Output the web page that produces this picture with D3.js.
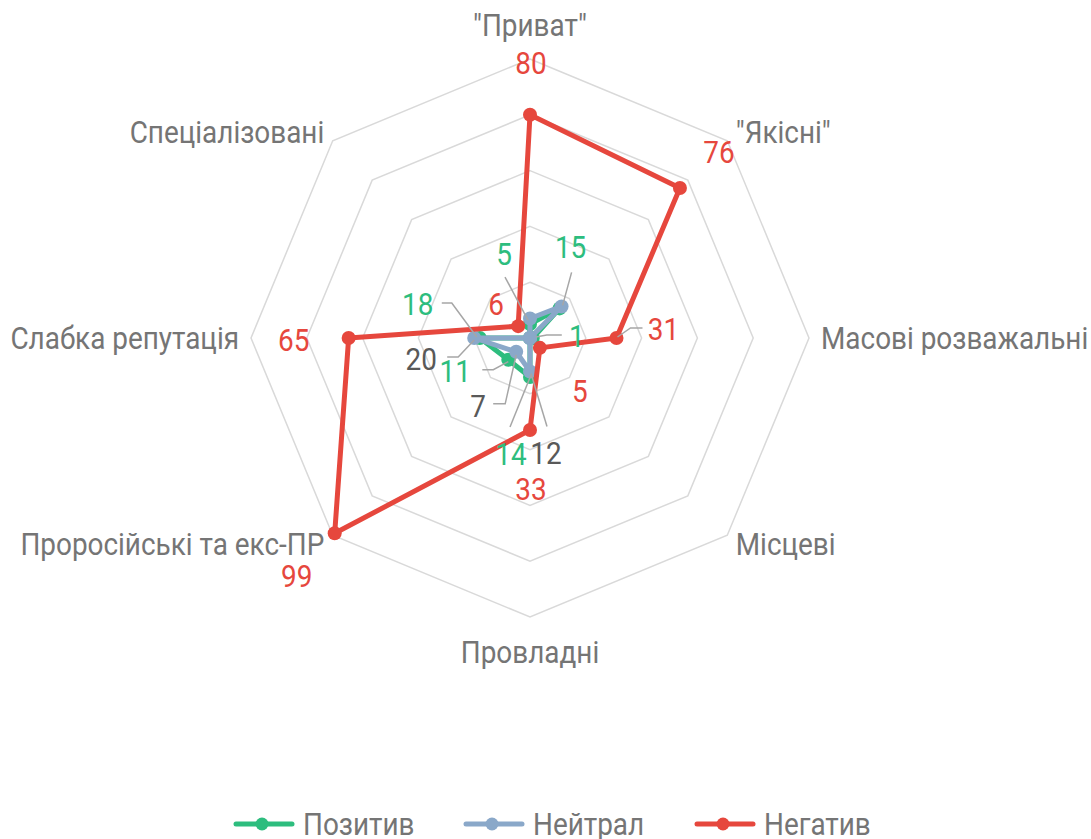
<!DOCTYPE html>
<html>
<head>
<meta charset="utf-8">
<script src="https://cdn.jsdelivr.net/npm/d3@7/dist/d3.min.js"></script>
<style>
  body { margin: 0; background: #fff; }
  text { font-family: Roboto, "Open Sans", sans-serif; font-size: 31px; }
</style>
</head>
<body>
<script>
var categories = ['"Приват"', '"Якісні"', 'Масові розважальні', 'Місцеві', 'Провладні', 'Проросійські та екс-ПР', 'Слабка репутація', 'Спеціалізовані']
var seriesNames = ['Позитив', 'Нейтрал', 'Негатив']
var positive = [5, 15, 1, 0, 14, 11, 18, 0]
var neutral = [7, 16, 0, 0, 12, 7, 20, 0]
var negative = [80, 76, 31, 5, 33, 99, 65, 6]
var ringValues = [20, 40, 60, 80, 100]

// label layout: [dx, dy] of text (centre, baseline) from the point, then leader polyline offsets
var positiveLabels = [
    [-26, -59, [[-25, -47], [-2, -4]]],
    [11, -50, [[12, -36], [3, -3]]],
    [44, 9, [[29, -3], [14, -3], [3, -1]]],
    null,
    [-19, 88, [[-20, 50], [1, -2]]],
    [-53, 22, [[-26, 10], [-15, 10], [0, 2]]],
    [-62, -23, [[-38, -35], [-28, -35], [-3, -1]]],
    null
]
var neutralLabels = [
    null, null, null, null,
    [16, 93, [[17, 55], [1, 2]]],
    [-38, 65, [[-23, 52], [-11, 52], [0, 3]]],
    [-53, 32, [[-27, 19], [-16, 19], [0, 2]]],
    null
]
var negativeLabels = [
    [1, -41], [39, -25],
    [47, 2, [[26, -10], [14, -10], [1, -1]]],
    [40, 54], [1, 70], [-38, 54], [-55, 13], [-22, -11]
]

var colors = ['#2dbd7e', '#8aa8c9', '#e6473d']
var labelColors = ['#2dbd7e', '#595959', '#e6473d']
var textGray = '#757575'
var squeeze = 0.9   // narrow the face to match the condensed look

var width = 1091, height = 839
var cx = 530, cy = 338, R = 279

var svg = d3.select('body').append('svg')
    .attr('width', width)
    .attr('height', height)

var r = d3.scaleLinear().domain([0, 100]).range([0, R])
var angle = d3.scaleLinear().domain([0, categories.length]).range([0, 2 * Math.PI])

function px(i, v) { return cx + r(v) * Math.sin(angle(i)) }
function py(i, v) { return cy - r(v) * Math.cos(angle(i)) }

function addText(g, x, y, str, anchor, color) {
    return g.append('g')
        .attr('transform', 'translate(' + x + ',' + y + ') scale(' + squeeze + ',1)')
        .append('text')
        .attr('text-anchor', anchor)
        .attr('fill', color)
        .text(str)
}

// grid
var grid = svg.append('g').attr('transform', 'translate(' + cx + ',' + cy + ')')
var ringLine = d3.lineRadial()
    .angle(function (d, i) { return angle(i) })
    .radius(function (d) { return r(d) })
    .curve(d3.curveLinearClosed)

grid.selectAll('path')
    .data(ringValues)
    .enter().append('path')
    .attr('d', function (v) { return ringLine(categories.map(function () { return v })) })
    .attr('fill', 'none')
    .attr('stroke', '#d9d9d9')
    .attr('stroke-width', 1.5)

// category labels
var catG = svg.append('g')
categories.forEach(function (c, i) {
    var a = angle(i)
    var s = Math.sin(a), co = Math.cos(a)
    var x = cx + (R + 12) * s
    var y = cy - (R + 12) * co
    var anchor = Math.abs(s) < 0.1 ? 'middle' : (s > 0 ? 'start' : 'end')
    var base
    if (co > 0.9) base = y - 11
    else if (co < -0.9) base = y + 34
    else base = y + 11
    addText(catG, x, base, c, anchor, textGray)
})

// series
var allSeries = [positive, neutral, negative]
var allLabels = [positiveLabels, neutralLabels, negativeLabels]

var seriesLine = d3.lineRadial()
    .angle(function (d, i) { return angle(i) })
    .radius(function (d) { return r(d) })
    .curve(d3.curveLinearClosed)

var plot = svg.append('g')
allSeries.forEach(function (vals, s) {
    var g = plot.append('g')
    g.append('path')
        .attr('transform', 'translate(' + cx + ',' + cy + ')')
        .attr('d', seriesLine(vals))
        .attr('fill', 'none')
        .attr('stroke', colors[s])
        .attr('stroke-width', 5)
        .attr('stroke-linejoin', 'round')
    g.selectAll('circle')
        .data(vals)
        .enter().append('circle')
        .attr('cx', function (d, i) { return px(i, d) })
        .attr('cy', function (d, i) { return py(i, d) })
        .attr('r', 7)
        .attr('fill', colors[s])
})

// leaders first, then value labels
var leaderG = svg.append('g')
var valueG = svg.append('g')
allSeries.forEach(function (vals, s) {
    vals.forEach(function (v, i) {
        var lab = allLabels[s][i]
        if (!lab) return
        var x0 = px(i, v), y0 = py(i, v)
        if (lab[2]) {
            leaderG.append('polyline')
                .attr('points', lab[2].map(function (p) { return (x0 + p[0]) + ',' + (y0 + p[1]) }).join(' '))
                .attr('fill', 'none')
                .attr('stroke', '#a6a6a6')
                .attr('stroke-width', 1.5)
        }
        addText(valueG, x0 + lab[0], y0 + lab[1], v, 'middle', labelColors[s])
    })
})

// legend
var legendX = [236, 466, 697]
var legendY = 824
var legend = svg.append('g')
seriesNames.forEach(function (n, s) {
    var x = legendX[s]
    legend.append('line')
        .attr('x1', x).attr('x2', x + 56)
        .attr('y1', legendY).attr('y2', legendY)
        .attr('stroke', colors[s])
        .attr('stroke-width', 5)
        .attr('stroke-linecap', 'round')
    legend.append('circle')
        .attr('cx', x + 26).attr('cy', legendY)
        .attr('r', 6.5)
        .attr('fill', colors[s])
    addText(legend, x + 67, legendY + 11, n, 'start', textGray)
})
</script>
</body>
</html>
